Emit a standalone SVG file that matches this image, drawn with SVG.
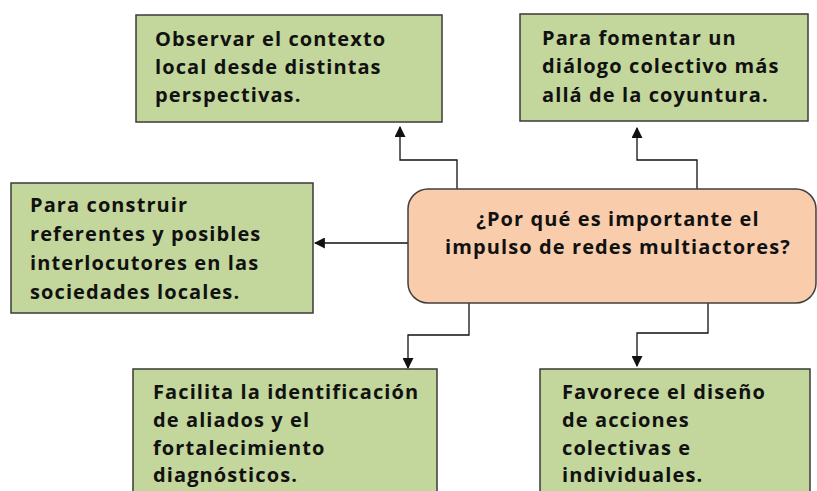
<svg xmlns="http://www.w3.org/2000/svg" width="817" height="491" viewBox="0 0 817 491">
<defs>
<style>
.box{fill:#C3D69B;stroke:#3a3a3a;stroke-width:1.5}
.ctr{fill:#F9CDAC;stroke:#404040;stroke-width:1.5}
.t{font-family:"Open Sans","Liberation Sans",sans-serif;font-weight:bold;font-size:20px;letter-spacing:1.1px;fill:#111}
.c{stroke:#111;stroke-width:1.3;fill:none;marker-end:url(#ah)}
</style>
<marker id="ah" viewBox="0 0 10 10" refX="9" refY="5" markerWidth="11" markerHeight="11" markerUnits="userSpaceOnUse" orient="auto">
<path d="M0,0 L10,5 L0,10 z" fill="#111"/>
</marker>
</defs>
<rect width="817" height="491" fill="#fff"/>
<g id="connectors">
<path class="c" d="M457,189 V160 H400 V127"/>
<path class="c" d="M697,189 V160 H637 V128"/>
<path class="c" d="M410,243 H315"/>
<path class="c" d="M469,303 V335 H408 V368"/>
<path class="c" d="M708,303 V333 H637 V366"/>
</g>
<g id="n1">
<rect class="box" x="136" y="15" width="306" height="107"/>
<text class="t" x="155" y="46">Observar el contexto</text>
<text class="t" x="155" y="74">local desde distintas</text>
<text class="t" x="155" y="102">perspectivas.</text>
</g>
<g id="n2">
<rect class="box" x="520" y="14" width="288" height="107"/>
<text class="t" x="542" y="45">Para fomentar un</text>
<text class="t" x="542" y="73">diálogo colectivo más</text>
<text class="t" x="542" y="102">allá de la coyuntura.</text>
</g>
<g id="n3">
<rect class="box" x="11" y="183" width="302" height="130"/>
<text class="t" x="30" y="212">Para construir</text>
<text class="t" x="30" y="241">referentes y posibles</text>
<text class="t" x="30" y="270">interlocutores en las</text>
<text class="t" x="30" y="299">sociedades locales.</text>
</g>
<g id="center">
<rect class="ctr" x="408" y="189" width="408" height="114" rx="20"/>
<text class="t" x="618" y="226" text-anchor="middle">¿Por qué es importante el</text>
<text class="t" x="618" y="254" text-anchor="middle">impulso de redes multiactores?</text>
</g>
<g id="n4">
<rect class="box" x="133" y="369" width="304" height="130"/>
<text class="t" x="153" y="399">Facilita la identificación</text>
<text class="t" x="153" y="427">de aliados y el</text>
<text class="t" x="153" y="455">fortalecimiento</text>
<text class="t" x="153" y="482">diagnósticos.</text>
</g>
<g id="n5">
<rect class="box" x="540" y="369" width="270" height="130"/>
<text class="t" x="562" y="399">Favorece el diseño</text>
<text class="t" x="562" y="427">de acciones</text>
<text class="t" x="562" y="455">colectivas e</text>
<text class="t" x="562" y="482">individuales.</text>
</g>
</svg>
